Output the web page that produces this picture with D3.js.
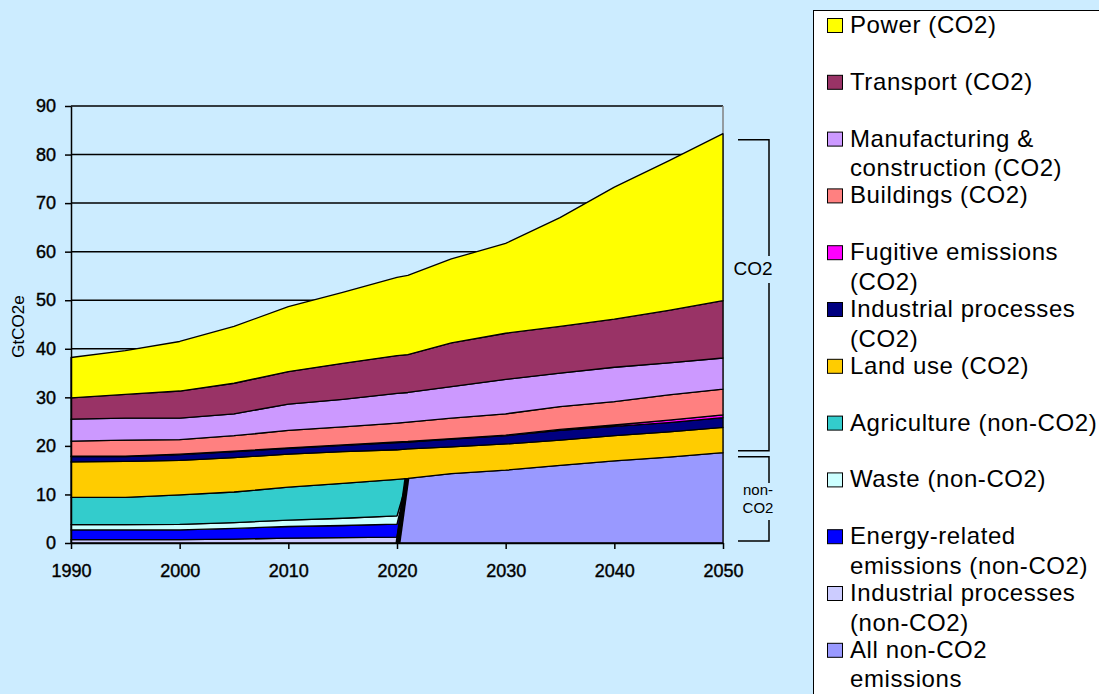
<!DOCTYPE html>
<html>
<head>
<meta charset="utf-8">
<script src="https://cdn.jsdelivr.net/npm/d3@7"></script>
<style>
  body { margin: 0; background: #ccecff; }
  svg { display: block; font-family: "Liberation Sans", Arial, sans-serif; }
</style>
</head>
<body>
<svg id="chart" width="1099" height="694"></svg>
<script>
// years; 2021 is where the split non-CO2 series give way to the total
var years = [1990, 1995, 2000, 2005, 2010, 2015, 2020, 2021, 2025, 2030, 2035, 2040, 2045, 2050];

// GtCO2e per layer, bottom of the stack first
var allNonCO2     = [0, 0, 0, 0, 0, 0, 0, 13.3, 14.3, 15.0, 16.0, 16.9, 17.7, 18.6];
var indProcNonCO2 = [0.7, 0.7, 0.7, 0.8, 1.0, 1.1, 1.2, 0, 0, 0, 0, 0, 0, 0];
var energyNonCO2  = [2.0, 2.0, 2.0, 2.2, 2.4, 2.5, 2.7, 0, 0, 0, 0, 0, 0, 0];
var wasteNonCO2   = [1.1, 1.1, 1.15, 1.2, 1.3, 1.5, 1.7, 0, 0, 0, 0, 0, 0, 0];
var agriNonCO2    = [5.6, 5.6, 6.05, 6.3, 6.8, 7.2, 7.5, 0, 0, 0, 0, 0, 0, 0];
var landUse       = [7.3, 7.4, 7.1, 7.1, 6.8, 6.5, 6.1, 6.1, 5.5, 5.4, 5.2, 5.2, 5.2, 5.2];
var indProcCO2    = [1.1, 1.0, 1.2, 1.2, 1.2, 1.3, 1.5, 1.4, 1.6, 1.7, 2.0, 1.9, 1.9, 2.0];
var fugitive      = [0.1, 0.1, 0.1, 0.1, 0.1, 0.1, 0.1, 0.1, 0.1, 0.1, 0.2, 0.3, 0.5, 0.6];
var buildings     = [3.1, 3.3, 3.0, 3.2, 3.6, 3.7, 3.9, 4.0, 4.2, 4.4, 4.7, 4.8, 5.2, 5.3];
var manufacturing = [4.5, 4.5, 4.4, 4.5, 5.4, 5.7, 6.1, 6.1, 6.5, 7.1, 6.9, 7.1, 6.6, 6.4];
var transport     = [4.4, 4.9, 5.6, 6.3, 6.7, 7.4, 7.8, 7.8, 9.0, 9.5, 9.6, 9.9, 10.8, 11.8];
var power         = [8.3, 9.0, 10.2, 11.7, 13.4, 14.6, 16.1, 16.3, 17.3, 18.5, 22.4, 27.2, 30.8, 34.4];

var yTicks = [0, 10, 20, 30, 40, 50, 60, 70, 80, 90];
var xTicks = [1990, 2000, 2010, 2020, 2030, 2040, 2050];

// span: 'old' stops once the total takes over, 'new' starts at 2020
var series = [
  { key: 'allNon',   values: allNonCO2,     color: '#9999ff', span: 'new', label: ['All non-CO2', 'emissions'] },
  { key: 'indNon',   values: indProcNonCO2, color: '#ccccff', span: 'old', label: ['Industrial processes', '(non-CO2)'] },
  { key: 'energy',   values: energyNonCO2,  color: '#0000ff', span: 'old', label: ['Energy-related', 'emissions (non-CO2)'] },
  { key: 'waste',    values: wasteNonCO2,   color: '#ccffff', span: 'old', label: ['Waste (non-CO2)'] },
  { key: 'agri',     values: agriNonCO2,    color: '#33cccc', span: 'old', label: ['Agriculture (non-CO2)'] },
  { key: 'land',     values: landUse,       color: '#ffcc00', span: 'all', label: ['Land use (CO2)'] },
  { key: 'indCO2',   values: indProcCO2,    color: '#000080', span: 'all', label: ['Industrial processes', '(CO2)'] },
  { key: 'fugitive', values: fugitive,      color: '#ff00ff', span: 'all', label: ['Fugitive emissions', '(CO2)'] },
  { key: 'build',    values: buildings,     color: '#ff8080', span: 'all', label: ['Buildings (CO2)'] },
  { key: 'manuf',    values: manufacturing, color: '#cc99ff', span: 'all', label: ['Manufacturing &', 'construction (CO2)'] },
  { key: 'transport',values: transport,     color: '#993366', span: 'all', label: ['Transport (CO2)'] },
  { key: 'power',    values: power,         color: '#ffff00', span: 'all', label: ['Power (CO2)'] }
];

var table = years.map(function(yr, i) {
  var row = { year: yr };
  series.forEach(function(s) { row[s.key] = s.values[i]; });
  return row;
});

var svg = d3.select('#chart');
var plot = { left: 71, right: 723, top: 106, bottom: 543 };

var x = d3.scaleLinear().domain([1990, 2050]).range([plot.left, plot.right]);
var y = d3.scaleLinear().domain([0, 90]).range([plot.bottom, plot.top]);

// grid lines behind everything
svg.append('g')
  .selectAll('line')
  .data(yTicks.slice(1))
  .join('line')
  .attr('x1', plot.left)
  .attr('x2', plot.right)
  .attr('y1', function(d) { return y(d); })
  .attr('y2', function(d) { return y(d); })
  .attr('stroke', '#000')
  .attr('stroke-width', 1.5);

svg.append('line')
  .attr('x1', plot.right).attr('x2', plot.right)
  .attr('y1', plot.top).attr('y2', plot.bottom)
  .attr('stroke', '#808080')
  .attr('stroke-width', 1.5);

var stack = d3.stack().keys(series.map(function(s) { return s.key; }));
var layers = stack(table);

var area = d3.area()
  .x(function(d) { return x(d.data.year); })
  .y0(function(d) { return y(d[0]); })
  .y1(function(d) { return y(d[1]); });

var inSpan = function(span) {
  return function(d) {
    if (span === 'old') return d.data.year <= 2021;
    if (span === 'new') return d.data.year >= 2020;
    return true;
  };
};

var areas = svg.append('g');
layers.forEach(function(layer, i) {
  var s = series[i];
  areas.append('path')
    .attr('d', area(layer.filter(inSpan(s.span))))
    .attr('fill', s.color)
    .attr('stroke', '#000')
    .attr('stroke-width', 1.3)
    .attr('stroke-linejoin', 'round');
});

// heavy edge where the total non-CO2 series starts
var startNew = layers[0].filter(function(d) { return d.data.year === 2020 || d.data.year === 2021; });
areas.append('line')
  .attr('x1', x(startNew[0].data.year) + 1)
  .attr('y1', y(startNew[0][0]))
  .attr('x2', x(startNew[1].data.year) - 1)
  .attr('y2', y(startNew[1][1]))
  .attr('stroke', '#000')
  .attr('stroke-width', 5);

// axes
var yAxis = svg.append('g')
  .attr('transform', 'translate(' + plot.left + ',0)')
  .call(d3.axisLeft(y).tickValues(yTicks).tickSize(6).tickPadding(9).tickSizeOuter(0));

var xAxis = svg.append('g')
  .attr('transform', 'translate(0,' + plot.bottom + ')')
  .call(d3.axisBottom(x).tickValues(xTicks).tickFormat(d3.format('d')).tickSize(6).tickPadding(15).tickSizeOuter(0));

[yAxis, xAxis].forEach(function(ax) {
  ax.select('.domain').attr('stroke', '#000').attr('stroke-width', 1.5);
  ax.selectAll('.tick line').attr('stroke', '#000').attr('stroke-width', 1.5);
  ax.selectAll('.tick text')
    .attr('fill', '#000')
    .attr('stroke', '#000')
    .attr('stroke-width', 0.4)
    .style('font-family', '"Liberation Sans", Arial, sans-serif')
    .style('font-size', '18px');
});

svg.append('text')
  .attr('transform', 'translate(24,' + ((plot.top + plot.bottom) / 2 + 2) + ') rotate(-90)')
  .attr('text-anchor', 'middle')
  .style('font-size', '17px')
  .text('GtCO2e');

// brackets on the right, from the 2050 totals
var last = table[table.length - 1];
var nonTop = y(last.allNon);
var co2Top = y(d3.sum(series, function(s) { return last[s.key]; }));
var bx = plot.right + 46;

var bracket = function(y1, y2, gapTop, gapBottom) {
  var g = svg.append('g').attr('stroke', '#000').attr('stroke-width', 1.5).attr('fill', 'none');
  g.append('path').attr('d', 'M' + (bx - 31) + ',' + y1 + 'H' + bx + 'V' + gapTop);
  g.append('path').attr('d', 'M' + bx + ',' + gapBottom + 'V' + y2 + 'H' + (bx - 31));
};

bracket(co2Top + 6, nonTop - 2, 256, 283);
bracket(nonTop + 4, y(0) - 2, 483, 520);

svg.append('text')
  .attr('x', bx - 16).attr('y', 275)
  .attr('text-anchor', 'middle')
  .style('font-size', '19px')
  .text('CO2');

svg.append('text')
  .attr('x', bx - 11).attr('y', 495)
  .attr('text-anchor', 'middle')
  .style('font-size', '15px')
  .text('non-');

svg.append('text')
  .attr('x', bx - 11).attr('y', 513)
  .attr('text-anchor', 'middle')
  .style('font-size', '15px')
  .text('CO2');

// legend, top series first
var legend = svg.append('g');
legend.append('rect')
  .attr('x', 813.5).attr('y', 10.5)
  .attr('width', 300).attr('height', 700)
  .attr('fill', '#fff')
  .attr('stroke', '#000');

var items = legend.selectAll('g.item')
  .data(series.slice().reverse())
  .join('g')
  .attr('class', 'item')
  .attr('transform', function(d, i) { return 'translate(0,' + (33 + i * 56.8) + ')'; });

items.append('rect')
  .attr('x', 827.5).attr('y', -14.5)
  .attr('width', 15).attr('height', 14)
  .attr('fill', function(d) { return d.color; })
  .attr('stroke', '#000');

items.append('text')
  .style('font-size', '24px')
  .style('letter-spacing', '0.6px')
  .selectAll('tspan')
  .data(function(d) { return d.label; })
  .join('tspan')
  .attr('x', 850)
  .attr('y', function(d, i) { return i * 29.5; })
  .text(function(d) { return d; });
</script>
</body>
</html>
